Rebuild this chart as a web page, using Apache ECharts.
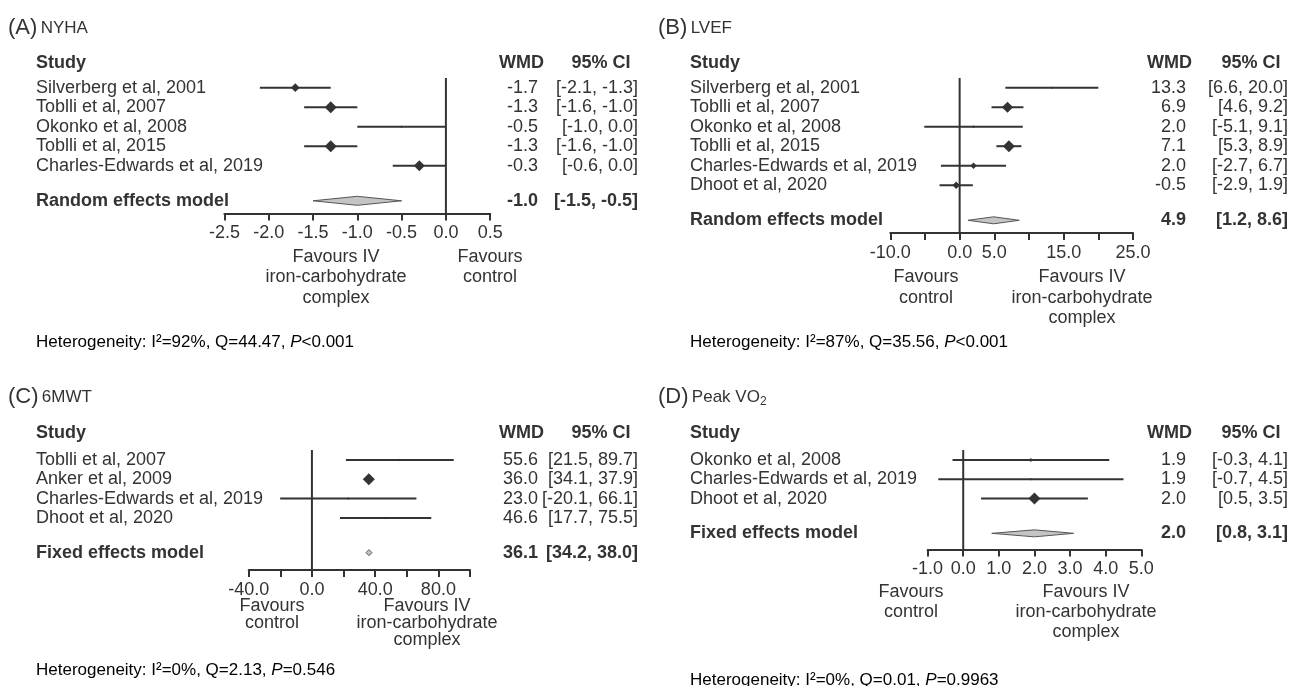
<!DOCTYPE html>
<html><head><meta charset="utf-8">
<script src="https://cdn.jsdelivr.net/npm/echarts@6/dist/echarts.min.js"></script>
<style>html,body{margin:0;padding:0;background:#fff}#c{width:1292px;height:686px}</style>
</head><body><div id="c"></div>
<script>
// ---------------- data ----------------
const studiesA = ['Silverberg et al, 2001', 'Toblli et al, 2007', 'Okonko et al, 2008', 'Toblli et al, 2015', 'Charles-Edwards et al, 2019'];
const wmdA = [-1.7, -1.3, -0.5, -1.3, -0.3];
const lowA = [-2.1, -1.6, -1.0, -1.6, -0.6];
const highA = [-1.3, -1.0, 0.0, -1.0, 0.0];
const weightA = [15.6, 29.5, 1.0, 29.5, 24.4];
const summaryA = ['Random effects model', -1.0, -1.5, -0.5];
const axisA = [-2.5, 0.5, 0.5];
const tickLabelsA = [-2.5, -2.0, -1.5, -1.0, -0.5, 0.0, 0.5];
const hetA = ['92%', '44.47', '<0.001'];

const studiesB = ['Silverberg et al, 2001', 'Toblli et al, 2007', 'Okonko et al, 2008', 'Toblli et al, 2015', 'Charles-Edwards et al, 2019', 'Dhoot et al, 2020'];
const wmdB = [13.3, 6.9, 2.0, 7.1, 2.0, -0.5];
const lowB = [6.6, 4.6, -5.1, 5.3, -2.7, -2.9];
const highB = [20.0, 9.2, 9.1, 8.9, 6.7, 1.9];
const weightB = [0.9, 32.8, 2.1, 38.5, 11.2, 14.6];
const summaryB = ['Random effects model', 4.9, 1.2, 8.6];
const axisB = [-10, 25, 5];
const tickLabelsB = [-10, 0, 5, 15, 25];
const hetB = ['87%', '35.56', '<0.001'];

const studiesC = ['Toblli et al, 2007', 'Anker et al, 2009', 'Charles-Edwards et al, 2019', 'Dhoot et al, 2020'];
const wmdC = [55.6, 36.0, 23.0, 46.6];
const lowC = [21.5, 34.1, -20.1, 17.7];
const highC = [89.7, 37.9, 66.1, 75.5];
const weightC = [0.3, 99.0, 0.2, 0.5];
const summaryC = ['Fixed effects model', 36.1, 34.2, 38.0];
const axisC = [-40, 100, 20];
const tickLabelsC = [-40, 0, 40, 80];
const hetC = ['0%', '2.13', '=0.546'];

const studiesD = ['Okonko et al, 2008', 'Charles-Edwards et al, 2019', 'Dhoot et al, 2020'];
const wmdD = [1.9, 1.9, 2.0];
const lowD = [-0.3, -0.7, 0.5];
const highD = [4.1, 4.5, 3.5];
const weightD = [9.5, 2.4, 85.7];
const summaryD = ['Fixed effects model', 2.0, 0.8, 3.1];
const axisD = [-1, 5, 1];
const tickLabelsD = [-1, 0, 1, 2, 3, 4, 5];
const hetD = ['0%', '0.01', '=0.9963'];

const titles = [['(A)', 'NYHA', ''], ['(B)', 'LVEF', ''], ['(C)', '6MWT', ''], ['(D)', 'Peak VO', '2']];
const favIV = 'Favours IV\niron-carbohydrate\ncomplex';
const favCtl = 'Favours\ncontrol';

// ---------------- layout / style ----------------
const FONT = '"Liberation Sans", Arial, Helvetica, sans-serif';
const TXT = '#333';
const LINE = '#333';
const FS = 18;
const MAX_BOX = 12, MIN_BOX = 2.5;
const SUM_GAP = 0.8;

const panels = [
  {studies: studiesA, wmd: wmdA, low: lowA, high: highA, weight: weightA, summary: summaryA, axis: axisA, labels: tickLabelsA, het: hetA, title: titles[0],
   grid: {left: 224.4, top: 78, width: 265.8, height: 135.5}, row0: 87.7, step: 19.5,
   labelX: 36, wmdX: 538, ciX: 638, headY: 63, titleX: 8, titleY: 28, hetY: 342, sumH: 9,
   favL: [336, favIV], favR: [490, favCtl], favY: 257, favLH: 20.5},
  {studies: studiesB, wmd: wmdB, low: lowB, high: highB, weight: weightB, summary: summaryB, axis: axisB, labels: tickLabelsB, het: hetB, title: titles[1],
   grid: {left: 890.3, top: 78, width: 242.7, height: 155}, row0: 87.7, step: 19.5,
   labelX: 690, wmdX: 1186, ciX: 1288, headY: 63, titleX: 658, titleY: 28, hetY: 342, sumH: 7,
   favL: [926, favCtl], favR: [1082, favIV], favY: 277, favLH: 20.7},
  {studies: studiesC, wmd: wmdC, low: lowC, high: highC, weight: weightC, summary: summaryC, axis: axisC, labels: tickLabelsC, het: hetC, title: titles[2],
   grid: {left: 248.7, top: 450, width: 221.3, height: 120}, row0: 460, step: 19.3,
   labelX: 36, wmdX: 538, ciX: 638, headY: 433, titleX: 8, titleY: 397, hetY: 670, sumH: 6,
   favL: [272, favCtl], favR: [427, favIV], favY: 606, favLH: 17},
  {studies: studiesD, wmd: wmdD, low: lowD, high: highD, weight: weightD, summary: summaryD, axis: axisD, labels: tickLabelsD, het: hetD, title: titles[3],
   grid: {left: 927.6, top: 450, width: 213.7, height: 99.5}, row0: 460, step: 19.3,
   labelX: 690, wmdX: 1186, ciX: 1288, headY: 433, titleX: 658, titleY: 397, hetY: 680, sumH: 7,
   favL: [911, favCtl], favR: [1086, favIV], favY: 592, favLH: 20}
];

function txt(text, x, y, align, weight) {
  return {type: 'text', x: x, y: y, style: {text: text, fill: TXT, fontSize: FS, fontFamily: FONT, fontWeight: weight || 'normal', align: align, verticalAlign: 'middle'}};
}

function makeRender(p) {
  const wMax = Math.max.apply(null, p.weight);
  return function (params, api) {
    const est = api.value(0), lo = api.value(1), hi = api.value(2), row = api.value(3), w = api.value(4), isSum = api.value(5);
    const a = api.coord([lo, row]), b = api.coord([hi, row]), c = api.coord([est, row]);
    const y = c[1];
    const ch = [];
    if (!isSum) {
      ch.push({type: 'line', shape: {x1: a[0], y1: y, x2: b[0], y2: y}, style: {stroke: LINE, lineWidth: 2}});
      const s = Math.max(MIN_BOX, MAX_BOX * Math.sqrt(w / wMax));
      ch.push({type: 'polygon', shape: {points: [[c[0] - s / 2, y], [c[0], y - s / 2], [c[0] + s / 2, y], [c[0], y + s / 2]]}, style: {fill: LINE}});
    } else {
      const h = p.sumH / 2;
      ch.push({type: 'polygon', shape: {points: [[a[0], y], [c[0], y - h], [b[0], y], [c[0], y + h]]}, style: {fill: '#c4c4c4', stroke: '#555', lineWidth: 1}});
    }
    const bw = isSum ? 'bold' : 'normal';
    const name = isSum ? p.summary[0] : p.studies[params.dataIndex];
    ch.push(txt(name, p.labelX, y, 'left', bw));
    ch.push(txt(est.toFixed(1), p.wmdX, y, 'right', bw));
    ch.push(txt('[' + lo.toFixed(1) + ', ' + hi.toFixed(1) + ']', p.ciX, y, 'right', bw));
    return {type: 'group', children: ch};
  };
}

const grids = [], xAxes = [], yAxes = [], series = [], graphics = [];
panels.forEach(function (p, i) {
  grids.push({left: p.grid.left, top: p.grid.top, width: p.grid.width, height: p.grid.height});
  const labs = p.labels;
  xAxes.push({
    gridIndex: i, type: 'value', min: p.axis[0], max: p.axis[1], interval: p.axis[2],
    axisLine: {show: true, onZero: false, lineStyle: {color: LINE, width: 2}},
    axisTick: {show: true, length: 7, lineStyle: {color: LINE, width: 2}},
    splitLine: {show: false},
    axisLabel: {show: true, margin: 11, fontSize: FS, fontFamily: FONT, color: TXT, showMinLabel: true, showMaxLabel: true,
      formatter: function (v) { return labs.some(function (l) { return Math.abs(l - v) < 1e-9; }) ? v.toFixed(1) : ''; }}
  });
  const yMin = (p.grid.top - p.row0) / p.step;
  const yMax = (p.grid.top + p.grid.height - p.row0) / p.step;
  yAxes.push({gridIndex: i, type: 'value', inverse: true, min: yMin, max: yMax, show: false});

  // reference line at 0
  series.push({
    type: 'custom', xAxisIndex: i, yAxisIndex: i, silent: true, data: [[0, 0]], encode: {x: 0, y: 1},
    renderItem: function (params, api) {
      const x = api.coord([0, 0])[0];
      const cs = params.coordSys;
      return {type: 'line', shape: {x1: x, y1: cs.y, x2: x, y2: cs.y + cs.height}, style: {stroke: LINE, lineWidth: 2}};
    }
  });
  const rows = p.studies.map(function (s, k) { return [p.wmd[k], p.low[k], p.high[k], k, p.weight[k], 0]; });
  rows.push([p.summary[1], p.summary[2], p.summary[3], p.studies.length - 1 + SUM_GAP + 1, 0, 1]);
  series.push({type: 'custom', xAxisIndex: i, yAxisIndex: i, silent: true, data: rows, encode: {x: [0, 1, 2], y: 3}, renderItem: makeRender(p)});

  // title
  const rich = {p: {fontSize: 22, fontFamily: FONT, fill: TXT, color: TXT}, t: {fontSize: 17, fontFamily: FONT, color: TXT},
    s: {fontSize: 12, fontFamily: FONT, color: TXT, verticalAlign: 'bottom', lineHeight: 12}};
  graphics.push({type: 'text', x: p.titleX, y: p.titleY, style: {text: '{p|' + p.title[0] + '} {t|' + p.title[1] + '}' + (p.title[2] ? '{s|' + p.title[2] + '}' : ''), rich: rich, fill: TXT, verticalAlign: 'middle'}});
  // headers
  graphics.push({type: 'text', x: p.labelX, y: p.headY, style: {text: 'Study', fontSize: FS, fontWeight: 'bold', fontFamily: FONT, fill: TXT, verticalAlign: 'middle'}});
  graphics.push({type: 'text', x: p.wmdX + 6, y: p.headY, style: {text: 'WMD', fontSize: FS, fontWeight: 'bold', fontFamily: FONT, fill: TXT, align: 'right', verticalAlign: 'middle'}});
  graphics.push({type: 'text', x: p.ciX - 37, y: p.headY, style: {text: '95% CI', fontSize: FS, fontWeight: 'bold', fontFamily: FONT, fill: TXT, align: 'center', verticalAlign: 'middle'}});
  // favours
  [p.favL, p.favR].forEach(function (f) {
    graphics.push({type: 'text', x: f[0], y: p.favY - p.favLH / 2, style: {text: f[1], fontSize: FS, fontFamily: FONT, fill: TXT, align: 'center', verticalAlign: 'top', lineHeight: p.favLH}});
  });
  // heterogeneity
  graphics.push({type: 'text', x: p.labelX, y: p.hetY, style: {
    text: '{n|Heterogeneity: I²=' + p.het[0] + ', Q=' + p.het[1] + ', }{i|P}{n|' + p.het[2] + '}',
    rich: {n: {fontSize: 17, fontFamily: FONT, color: TXT}, i: {fontSize: 17, fontFamily: FONT, fontStyle: 'italic', color: TXT}},
    verticalAlign: 'middle'}});
});

const chart = echarts.init(document.getElementById('c'), null, {renderer: 'canvas'});
chart.setOption({
  animation: false,
  backgroundColor: '#fff',
  grid: grids, xAxis: xAxes, yAxis: yAxes, series: series, graphic: graphics
});
</script></body></html>
